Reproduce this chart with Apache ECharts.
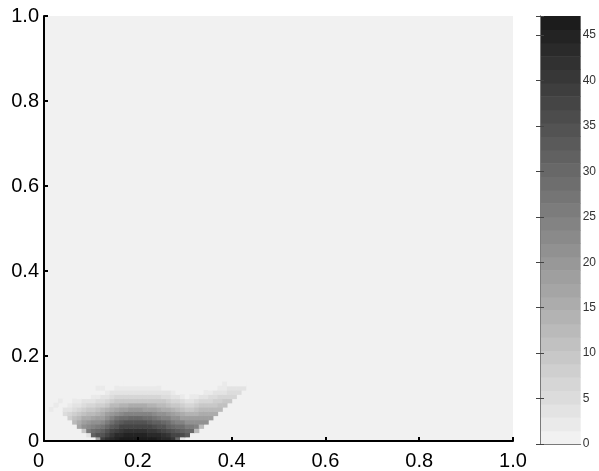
<!DOCTYPE html>
<html>
<head>
<meta charset="utf-8">
<script src="https://cdn.jsdelivr.net/npm/echarts@6/dist/echarts.min.js"></script>
<style>html,body{margin:0;padding:0;background:#fff;}#chart{width:599px;height:471px;}</style>
</head>
<body>
<div id="chart"></div>
<script>
// x axis / y axis tick labels
const xTicks = [0, 0.2, 0.4, 0.6, 0.8, 1.0];
const yTicks = [0, 0.2, 0.4, 0.6, 0.8, 1.0];
const colorbarTicks = [0, 5, 10, 15, 20, 25, 30, 35, 40, 45];
const colorMax = 47.1;
const colorLevels = 32;
// heatmap cell grid: left edges of columns, bottom edges of rows
const cellSize = 0.01;
const xStarts = [0.01,0.02,0.03,0.04,0.05,0.06,0.07,0.08,0.09,0.10,0.11,0.12,0.13,0.14,0.15,0.16,0.17,0.18,0.19,0.20,0.21,
                 0.22,0.23,0.24,0.25,0.26,0.27,0.28,0.29,0.30,0.31,0.32,0.33,0.34,0.35,0.36,0.37,0.38,0.39,0.40,0.41,0.42];
const yStarts = [0.00,0.01,0.02,0.03,0.04,0.05,0.06,0.07,0.08,0.09,0.10,0.11,0.12,0.13,0.14];
// density values, one array per column (bottom row first)
const density = [
  [0,0,0,0,0,0,0,2,0,0,0,0,0,0,0],
  [0,0,0,0,0,0,0,1,2,0,0,0,0,0,0],
  [0,0,0,0,0,0,0,1,0,2,0,0,0,0,0],
  [0,0,0,0,0,0,5,3,1,1,0,0,0,0,0],
  [0,0,0,0,0,8,6,4,2,1,0,0,0,0,0],
  [0,0,0,0,13,11,8,5,3,2,0,0,0,0,0],
  [0,0,0,17,15,12,9,6,4,2,1,0,0,0,0],
  [0,0,10,21,18,15,11,8,5,3,1,0,0,0,0],
  [0,3,26,23,20,16,12,9,6,3,1,0,0,0,0],
  [0,31,28,25,21,17,13,10,7,4,2,1,0,0,0],
  [18,34,30,26,22,18,14,11,8,5,2,1,2,0,0],
  [39,35,31,27,23,19,15,12,8,5,3,1,2,0,0],
  [42,38,34,30,26,22,18,14,10,7,4,2,1,0,0],
  [44,41,37,33,29,25,20,16,12,8,5,3,1,0,0],
  [45,43,39,35,31,27,22,17,13,9,6,3,2,0,0],
  [46,44,41,37,33,28,23,18,14,10,6,4,2,1,0],
  [47,45,42,38,34,29,24,19,14,10,7,4,2,1,0],
  [47,45,42,38,34,30,25,20,15,10,7,4,2,1,0],
  [47,45,42,38,34,30,25,20,15,10,7,4,2,1,0],
  [47,45,42,38,34,30,25,20,15,10,7,4,2,1,0],
  [47,45,42,38,34,29,24,19,15,10,7,4,2,1,0],
  [46,44,41,37,33,28,24,19,14,10,6,4,2,1,0],
  [46,44,40,36,32,27,23,18,14,10,6,3,2,1,0],
  [45,43,39,35,31,26,22,17,13,9,6,3,2,0,0],
  [44,42,38,34,30,25,21,16,12,9,5,3,1,0,0],
  [43,40,36,32,28,24,20,15,11,8,5,3,1,0,0],
  [40,38,34,30,26,22,18,14,10,7,4,2,1,0,0],
  [30,37,33,29,25,21,17,13,9,6,3,1,0,0,0],
  [4,36,32,28,24,19,15,11,8,5,2,0,0,0,0],
  [0,33,30,26,22,18,14,10,7,4,1,0,0,0,0],
  [0,0,30,26,22,18,14,10,7,4,2,0,0,0,0],
  [0,0,13,25,21,18,14,11,8,5,2,0,0,0,0],
  [0,0,0,12,22,18,15,12,9,6,3,1,0,0,0],
  [0,0,0,0,21,19,15,12,9,6,4,2,0,0,0],
  [0,0,0,0,0,18,16,13,10,7,5,2,1,0,0],
  [0,0,0,0,0,0,15,13,10,8,5,3,1,0,0],
  [0,0,0,0,0,0,0,13,11,8,6,4,2,0,0],
  [0,0,0,0,0,0,0,0,11,9,6,4,2,2,0],
  [0,0,0,0,0,0,0,0,0,9,7,5,3,1,0],
  [0,0,0,0,0,0,0,0,0,0,7,5,3,1,0],
  [0,0,0,0,0,0,0,0,0,0,0,5,3,1,0],
  [0,0,0,0,0,0,0,0,0,0,0,0,3,1,0]
];

const cells = [];
xStarts.forEach((x, c) => {
  yStarts.forEach((y, r) => {
    const v = density[c][r];
    if (v > 0) cells.push([x, y, v]);
  });
});
const bands = [];
for (let i = 0; i < colorLevels; i++) {
  const lo = colorMax * i / colorLevels, hi = colorMax * (i + 1) / colorLevels;
  bands.push([lo, hi, (lo + hi) / 2]);
}

const FONT = '"Liberation Sans", Arial, sans-serif';
const chart = echarts.init(document.getElementById('chart'));
chart.setOption({
  backgroundColor: '#ffffff',
  animation: false,
  grid: [
    {left: 44, right: 86, top: 16, bottom: 28, show: true, backgroundColor: '#f1f1f1', borderWidth: 0},
    {left: 540, right: 18, top: 16, bottom: 27, show: false}
  ],
  visualMap: {
    type: 'piecewise', show: false, min: 0, max: colorMax, splitNumber: colorLevels, precision: 4,
    dimension: 2, seriesIndex: [0, 1],
    inRange: {color: ['#f1f1f1', '#1c1c1c']}
  },
  xAxis: [
    {gridIndex: 0, type: 'value', min: 0, max: 1, interval: 0.2, z: 10,
     axisLine: {show: true, lineStyle: {color: '#000', width: 2}},
     axisTick: {show: true, inside: true, length: 4, lineStyle: {color: '#000', width: 2}},
     splitLine: {show: false},
     axisLabel: {color: '#000', fontSize: 20, fontFamily: FONT, margin: 10, alignMinLabel: 'right',
       formatter: v => (xTicks.some(t => Math.abs(t - v) < 1e-9) ? (v === 0 ? '0' : v.toFixed(1)) : '')}},
    {gridIndex: 1, type: 'value', min: 0, max: 1, position: 'bottom', z: 10,
     axisLine: {show: true, lineStyle: {color: '#7a7a7a', width: 1}},
     axisTick: {show: false}, axisLabel: {show: false}, splitLine: {show: false}},
    {gridIndex: 1, type: 'value', min: 0, max: 1, position: 'top', z: 10,
     axisLine: {show: true, lineStyle: {color: '#7a7a7a', width: 1}},
     axisTick: {show: false}, axisLabel: {show: false}, splitLine: {show: false}}
  ],
  yAxis: [
    {gridIndex: 0, type: 'value', min: 0, max: 1, interval: 0.2, z: 10,
     axisLine: {show: true, lineStyle: {color: '#000', width: 2}},
     axisTick: {show: true, inside: true, length: 4, lineStyle: {color: '#000', width: 2}},
     splitLine: {show: false},
     axisLabel: {color: '#000', fontSize: 20, fontFamily: FONT, margin: 5,
       formatter: v => (yTicks.some(t => Math.abs(t - v) < 1e-9) ? (v === 0 ? '0' : v.toFixed(1)) : '')}},
    {gridIndex: 1, type: 'value', min: 0, max: colorMax, interval: 5, position: 'right', z: 10,
     axisLine: {show: true, lineStyle: {color: '#7a7a7a', width: 1}},
     axisTick: {show: true, inside: true, length: 4, lineStyle: {color: '#444', width: 1}},
     splitLine: {show: false},
     axisLabel: {color: '#333', fontSize: 12, fontFamily: FONT, margin: 2,
       formatter: v => (colorbarTicks.indexOf(v) >= 0 ? String(v) : '')}},
    {gridIndex: 1, type: 'value', min: 0, max: colorMax, interval: 5, position: 'left', z: 10,
     axisLine: {show: true, lineStyle: {color: '#7a7a7a', width: 1}},
     axisTick: {show: true, inside: true, length: 4, lineStyle: {color: '#444', width: 1}},
     axisLabel: {show: false}, splitLine: {show: false}}
  ],
  series: [
    {
      type: 'custom', xAxisIndex: 0, yAxisIndex: 0, clip: true,
      encode: {x: 0, y: 1},
      data: cells,
      renderItem: function (params, api) {
        const x0 = api.value(0), y0 = api.value(1);
        const p0 = api.coord([x0, y0]);
        const p1 = api.coord([x0 + cellSize, y0 + cellSize]);
        return {type: 'rect',
          shape: {x: p0[0], y: p1[1], width: p1[0] - p0[0] + 0.6, height: p0[1] - p1[1] + 0.6},
          style: {fill: api.visual('color')}};
      }
    },
    {
      type: 'custom', xAxisIndex: 1, yAxisIndex: 1, clip: true,
      encode: {y: [0, 1]},
      data: bands,
      renderItem: function (params, api) {
        const lo = api.value(0), hi = api.value(1);
        const p0 = api.coord([0, lo]);
        const p1 = api.coord([1, hi]);
        return {type: 'rect',
          shape: {x: p0[0], y: p1[1], width: p1[0] - p0[0], height: p0[1] - p1[1] + 0.6},
          style: {fill: api.visual('color')}};
      }
    }
  ]
});
</script>
</body>
</html>
